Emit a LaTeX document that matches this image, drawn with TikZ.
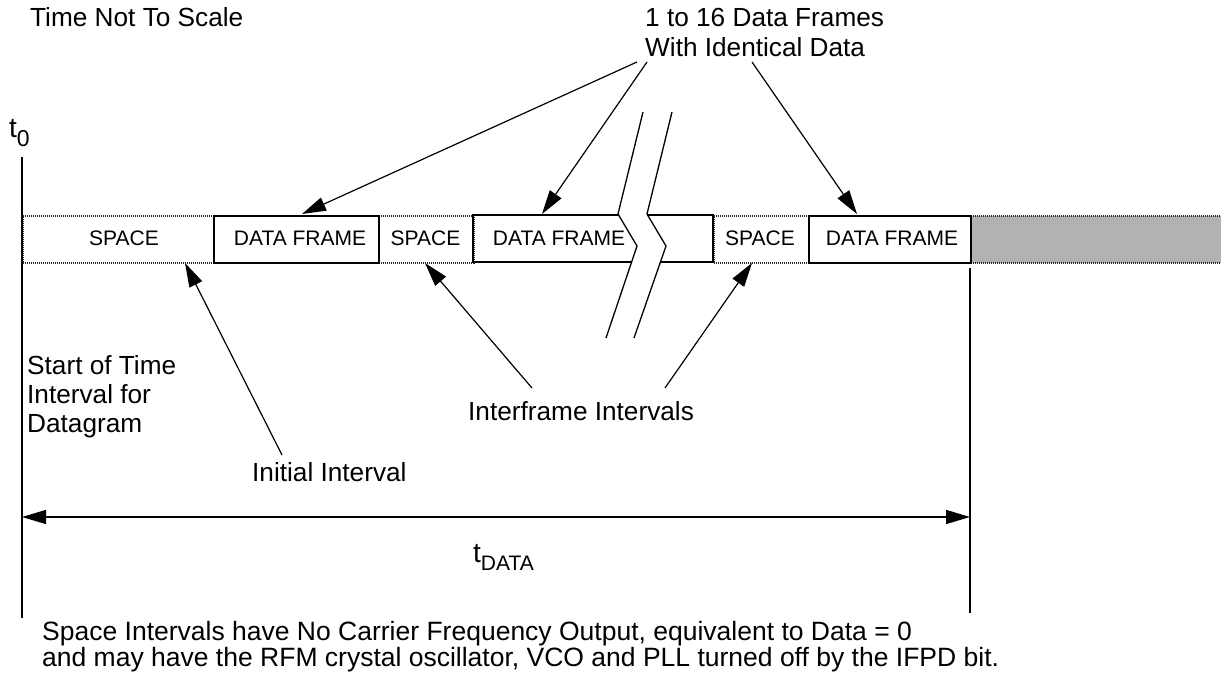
\documentclass[tikz,border=0pt]{standalone}
\usepackage{fontspec}
\setmainfont{Liberation Sans}
\usetikzlibrary{arrows.meta}
\begin{document}
\begin{tikzpicture}[x=1pt,y=-1pt,
  txt/.style={inner sep=0pt, font=\fontsize{26.2}{29}\selectfont},
  boxtxt/.style={inner sep=0pt, font=\fontsize{21}{24}\selectfont},
  spacebox/.style={draw=black!85, dash pattern=on 1pt off 1pt, line width=1.6pt, minimum height=47pt, inner sep=0pt, anchor=north west},
  framebox/.style={draw=black, solid, line width=2.2pt, minimum height=47pt, inner sep=0pt, anchor=north west},
  conn/.style={line width=1.2pt, -{Triangle[length=24pt,width=14pt]}},
  axisline/.style={line width=2pt},
  brk/.style={line width=1.3pt, line join=miter},
  frameedge/.style={line width=2.2pt},
]
\useasboundingbox (0,0) rectangle (1221,679);

% bar: space intervals
\node[spacebox, minimum width=191pt] (sp1) at (22,215) {};
\node[spacebox, minimum width=95pt] (sp2) at (378,215) {};
\node[spacebox, minimum width=95pt] (sp3) at (713,215) {};
\begin{scope}
\clip (0,0) rectangle (1221,679);
\node[spacebox, fill=black!30, minimum width=270pt] (rest) at (970,215) {};
\end{scope}

% data frames
\node[framebox, minimum width=165pt] (df1) at (213,215) {};
\node[framebox, minimum width=162pt] (df3) at (808,215) {};
\draw[frameedge] (618,215) -- (473,215) -- (473,262) -- (631.6,262);
\draw[frameedge] (647,215) -- (713,215) -- (713,262) -- (660.4,262);

% break lines
\draw[brk] (643,112) -- (618,214) -- (637,246) -- (606,338);
\draw[brk] (672,112) -- (647,214) -- (666,246) -- (634,338);

% box texts
\node[boxtxt] (tsp1) at (124,238.5) {SPACE};
\node[boxtxt] (tdf1) at (300,238.5) {DATA FRAME};
\node[boxtxt] (tsp2) at (425.5,238.5) {SPACE};
\node[boxtxt] (tdf2) at (559,238.5) {DATA FRAME};
\node[boxtxt] (tsp3) at (760,238.5) {SPACE};
\node[boxtxt] (tdf3) at (892,238.5) {DATA FRAME};

% time axis lines
\coordinate (ltop) at (22,157);
\coordinate (lbot) at (22,618);
\coordinate (rtop) at (970,268);
\coordinate (rbot) at (970,613);
\draw[axisline] (ltop) -- (lbot);
\draw[axisline] (rtop) -- (rbot);

\node[txt, anchor=base west, font=\fontsize{28}{30}\selectfont] (t0) at (9,138) {t\raisebox{-9pt}{\fontsize{23}{24}\selectfont 0}};

% t_DATA
\coordinate (al) at (22,517);
\coordinate (ar) at (970,517);
\draw[line width=1.5pt, {Triangle[length=24pt,width=14pt]}-{Triangle[length=24pt,width=14pt]}] (al) -- (ar);
\node[txt, anchor=base west, font=\fontsize{28}{30}\selectfont] (tdata) at (473,562) {t\raisebox{-8pt}{\fontsize{21}{24}\selectfont DATA}};

% labels (multi-line nodes: base = last line's baseline)
\node[txt, anchor=base west] (tns) at (30,27) {Time Not To Scale};
\node[txt, anchor=base west, align=left, font=\fontsize{26.2}{30}\selectfont] (frames) at (645,57) {1 to 16 Data Frames\\With Identical Data};
\node[txt, anchor=base west, align=left] (start) at (27,432) {Start of Time\\Interval for\\Datagram};
\node[txt, anchor=base west] (init) at (252,481) {Initial Interval};
\node[txt, anchor=base west] (inter) at (468,420) {Interframe Intervals};
\node[txt, anchor=base west, align=left, font=\fontsize{26.5}{23.5}\selectfont] (note) at (42,666) {Space Intervals have No Carrier Frequency Output, equivalent to Data = 0\\and may have the RFM crystal oscillator, VCO and PLL turned off by the IFPD bit.};

% connector end points
\coordinate (s1) at (637,62);
\coordinate (s2) at (647,62);
\coordinate (s3) at (752,62);
\coordinate (e1) at (302,214);
\coordinate (e2) at (542,214);
\coordinate (e3) at (857,214);
\coordinate (si) at (282,455);
\coordinate (ei) at (185,263);
\coordinate (sf1) at (532,388);
\coordinate (ef1) at (425,263);
\coordinate (sf2) at (665,388);
\coordinate (ef2) at (752,263);

\draw[conn] (s1) -- (e1);
\draw[conn] (s2) -- (e2);
\draw[conn] (s3) -- (e3);
\draw[conn] (si) -- (ei);
\draw[conn] (sf1) -- (ef1);
\draw[conn] (sf2) -- (ef2);
\end{tikzpicture}
\end{document}
